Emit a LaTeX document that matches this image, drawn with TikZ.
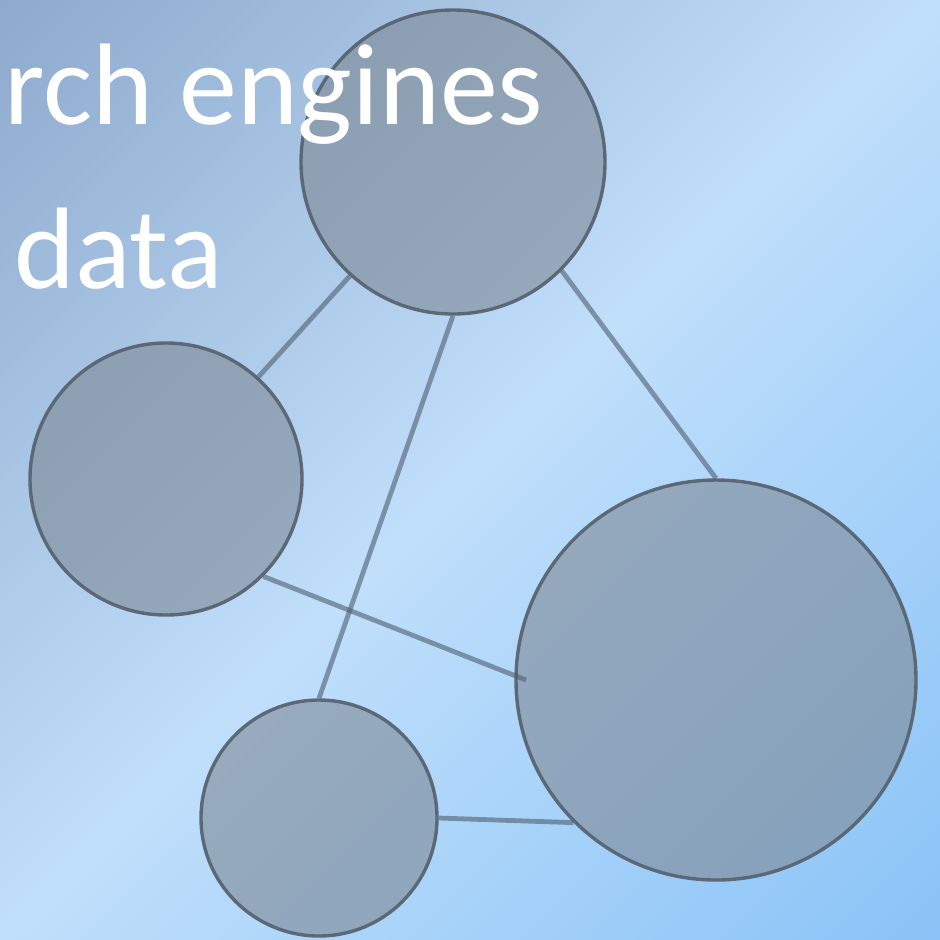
\documentclass[tikz,border=0pt]{standalone}
\usepackage{fontspec}
\setmainfont{Carlito}
\definecolor{bgtl}{RGB}{142,169,204}
\definecolor{bgmid}{RGB}{192,223,251}
\definecolor{bgbr}{RGB}{138,195,247}
\definecolor{blobfill}{RGB}{124,134,146}
\definecolor{blobedge}{RGB}{88,100,114}
\definecolor{linkcol}{RGB}{78,94,112}
\pgfdeclarehorizontalshading{slidebg}{100bp}{color(0bp)=(bgtl); color(14.6bp)=(bgtl); color(50bp)=(bgmid); color(85.4bp)=(bgbr); color(100bp)=(bgbr)}
\tikzset{
  blob/.style={draw=blobedge, circle, line width=1.7pt, fill=blobfill, fill opacity=.58, draw opacity=.95, inner sep=0pt},
  link/.style={line width=2.4pt, draw=linkcol, draw opacity=.6},
  slidetext/.style={text=white, font=\fontsize{58}{62}\selectfont, anchor=base west, inner sep=0pt}
}

\begin{document}
\begin{tikzpicture}[x=0.5pt,y=-0.5pt]
    \shade[shading=slidebg, shading angle=-45] (0,0) rectangle (940,939);
    \useasboundingbox (0,0) rectangle (940,939);

    \node[blob, minimum size=152pt] (ct) at (453,162) {};
    \node[blob, minimum size=136pt] (cl) at (166,479) {};
    \node[blob, minimum size=200pt] (cr) at (716,680) {};
    \node[blob, minimum size=118pt] (cb) at (319,818) {};

    \coordinate (lr) at (526,680); % ends inside the big one

    \draw[link] (ct) -- (cl);
    \draw[link] (ct.south) -- (cb.north);
    \draw[link] (ct.-45) -- (cr.north);
    \draw[link] (cl.-45) -- (lr);
    \draw[link] (cb.east) -- (cr.225);

    \node[slidetext] (t1) at (4,124) {rch engines};
    \node[slidetext] (t2) at (14,288) {data};
  \end{tikzpicture}
\end{document}
